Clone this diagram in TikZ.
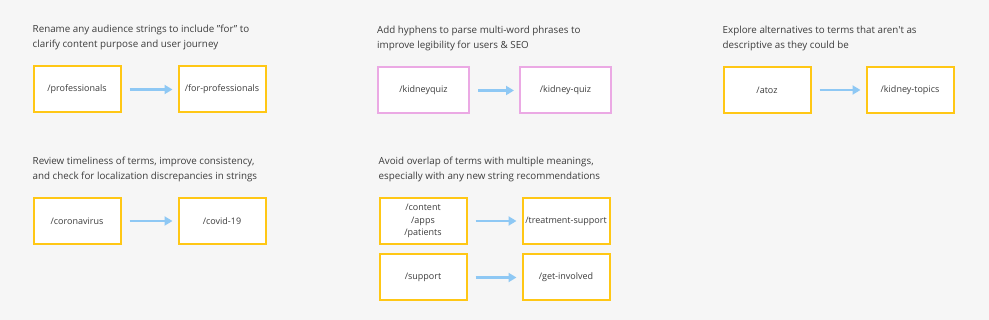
\documentclass[tikz,border=0pt]{standalone}
\usepackage{fontspec}
\setmainfont{Open Sans}
\usetikzlibrary{arrows.meta, positioning}
\definecolor{pageGray}{HTML}{F6F6F6}
\definecolor{slugGold}{HTML}{FFC715}
\definecolor{slugPink}{HTML}{EBA9E4}
\definecolor{slugBlue}{HTML}{8EC8F4}
\definecolor{inkGray}{HTML}{3C3C3C}
\tikzset{
  slug/.style  = {rectangle, draw=slugGold, line width=2pt, fill=white,
                  minimum width=87pt, minimum height=46pt, inner xsep=1pt,
                  align=center, text=inkGray, font=\fontsize{9}{12.2}\selectfont},
  pslug/.style = {slug, draw=slugPink, minimum width=91pt},
  note/.style  = {inner sep=0pt, align=left, text=inkGray,
                  font=\fontsize{9.8}{15}\selectfont},
  arrow/.style = {-{Triangle[length=8pt, width=9pt]}, line width=2.2pt,
                  color=slugBlue, shorten <=8pt, shorten >=5pt},
}

\begin{document}
\begin{tikzpicture}[x=1pt, y=-1pt]
\fill[pageGray] (0,0) rectangle (989,320);
\useasboundingbox (0,0) rectangle (989,320);

% first row
\node[slug]  (prof)    at (77,89.5)  {/professionals};
\node[slug, right=56pt of prof]  (forprof) {/for-professionals};
\node[pslug] (kq)      at (423.5,90.5) {/kidneyquiz};
\node[pslug, right=49pt of kq]   (kqdash)  {/kidney-quiz};
\node[slug]  (atoz)    at (767,90)   {/atoz};
\node[slug, right=54pt of atoz]  (topics)  {/kidney-topics};

% second row
\node[slug]  (corona)  at (77,221)   {/coronavirus};
\node[slug, right=56pt of corona] (covid)  {/covid-19};
\node[slug]  (content) at (423,221)  {/content\\/apps\\/patients};
\node[slug, right=54pt of content] (treat) {/treatment-support};
\node[slug]  (support) at (423,277.5) {/support};
\node[slug, right=54pt of support] (involve) {/get-involved};

% headings
\node[note, above=15pt of prof.north west, anchor=south west] (noteprof)
  {Rename any audience strings to include "for" to\\clarify content purpose and user journey};
\node[note, above=15pt of kq.north west, anchor=south west] (notekq)
  {Add hyphens to parse multi-word phrases to\\improve legibility for users \& SEO};
\node[note, above=15pt of atoz.north west, anchor=south west] (noteatoz)
  {Explore alternatives to terms that aren\textquotesingle t as\\descriptive as they could be};
\node[note, above=15pt of corona.north west, anchor=south west] (notecorona)
  {Review timeliness of terms, improve consistency,\\and check for localization discrepancies in strings};
\node[note, above=15pt of content.north west, anchor=south west] (notecontent)
  {Avoid overlap of terms with multiple meanings,\\especially with any new string recommendations};

\draw[arrow] (prof)    -- (forprof);
\draw[arrow] (kq)      -- (kqdash);
\draw[arrow] (atoz)    -- (topics);
\draw[arrow] (corona)  -- (covid);
\draw[arrow] (content) -- (treat);
\draw[arrow] (support) -- (involve);

\end{tikzpicture}
\end{document}
